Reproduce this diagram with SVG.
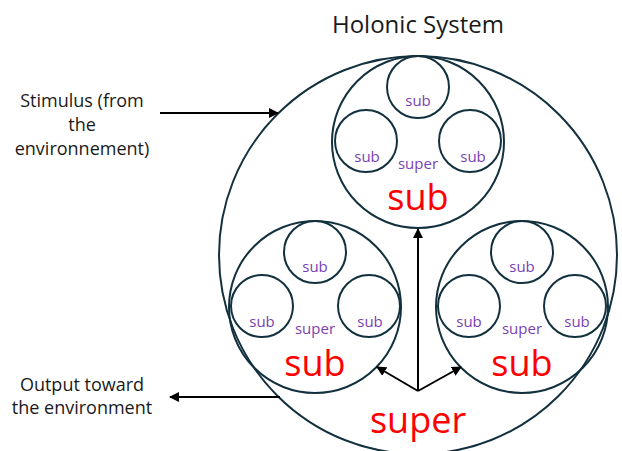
<svg xmlns="http://www.w3.org/2000/svg" width="622" height="451" viewBox="0 0 622 451">
<defs>
<style>
.c{fill:none;stroke:#12303d;stroke-width:2}
.t{font-family:"Open Sans","Liberation Sans",sans-serif;text-anchor:middle}
.s{fill:#7a3fb2;font-size:15px}
.big{fill:#ff0000;font-size:36px}
.lab{fill:#1a1a1a;font-size:18px}
.ttl{fill:#1a1a1a;font-size:24px}
.a{fill:none;stroke:#000;stroke-width:2}
</style>
<marker id="ah" markerWidth="10" markerHeight="10" refX="9" refY="5" orient="auto" markerUnits="userSpaceOnUse">
<path d="M0,0 L10,5 L0,10 z" fill="#000"/>
</marker>
</defs>
<rect width="622" height="451" fill="#fff"/>
<text class="t ttl" x="418" y="33">Holonic System</text>
<g id="system">
<circle class="c" cx="418" cy="255" r="199"/>
<text class="t big" x="418" y="433">super</text>
</g>
<g id="holon-top">
<circle class="c" cx="418" cy="142" r="86"/>
<circle class="c" cx="418" cy="87" r="31"/>
<circle class="c" cx="366" cy="141" r="31"/>
<circle class="c" cx="470" cy="141" r="31"/>
<text class="t s" x="418" y="106">sub</text>
<text class="t s" x="367" y="162">sub</text>
<text class="t s" x="473" y="162">sub</text>
<text class="t s" x="418" y="169">super</text>
<text class="t big" x="418" y="210">sub</text>
</g>
<g id="holon-left">
<circle class="c" cx="315" cy="307" r="86"/>
<circle class="c" cx="315" cy="252" r="31"/>
<circle class="c" cx="262" cy="306" r="31"/>
<circle class="c" cx="369" cy="306" r="31"/>
<text class="t s" x="315" y="272">sub</text>
<text class="t s" x="262" y="327">sub</text>
<text class="t s" x="370" y="327">sub</text>
<text class="t s" x="315" y="334">super</text>
<text class="t big" x="315" y="376">sub</text>
</g>
<g id="holon-right">
<circle class="c" cx="522" cy="307" r="86"/>
<circle class="c" cx="522" cy="252" r="31"/>
<circle class="c" cx="469" cy="306" r="31"/>
<circle class="c" cx="575" cy="306" r="31"/>
<text class="t s" x="522" y="272">sub</text>
<text class="t s" x="469" y="327">sub</text>
<text class="t s" x="577" y="327">sub</text>
<text class="t s" x="522" y="334">super</text>
<text class="t big" x="522" y="376">sub</text>
</g>
<g id="labels">
<text class="t lab" x="82" y="107">Stimulus (from</text>
<text class="t lab" x="82" y="131">the</text>
<text class="t lab" x="82" y="155">environnement)</text>
<text class="t lab" x="82" y="391">Output toward</text>
<text class="t lab" x="82" y="414">the environment</text>
</g>
<g id="connectors">
<line class="a" x1="160" y1="113" x2="278" y2="113" marker-end="url(#ah)"/>
<line class="a" x1="280" y1="397" x2="170" y2="397" marker-end="url(#ah)"/>
<line class="a" x1="418" y1="391" x2="418" y2="229" marker-end="url(#ah)"/>
<line class="a" x1="418" y1="391" x2="377" y2="367" marker-end="url(#ah)"/>
<line class="a" x1="418" y1="391" x2="461" y2="367" marker-end="url(#ah)"/>
</g>
</svg>
